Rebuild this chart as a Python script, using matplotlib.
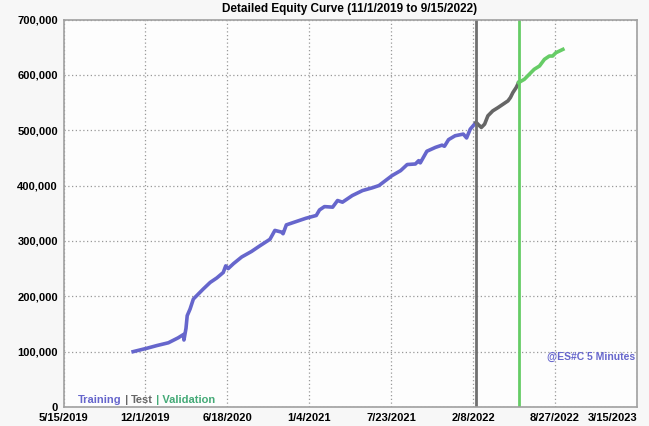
"""Detailed equity curve: training / test / validation segments.
"""
import numpy as np
import pandas as pd
import matplotlib
matplotlib.use('Agg')
import matplotlib.pyplot as plt

# equity readings (date, value) for each segment
train_dates = ['2019-11-01', '2019-12-04', '2019-12-29', '2020-01-26', '2020-02-19',
               '2020-03-03', '2020-03-04', '2020-03-09', '2020-03-12', '2020-03-19',
               '2020-03-27', '2020-04-08', '2020-04-20', '2020-05-07', '2020-05-23',
               '2020-06-08', '2020-06-14', '2020-06-20', '2020-07-03', '2020-07-23',
               '2020-08-16', '2020-09-05', '2020-09-30', '2020-10-12', '2020-10-28',
               '2020-11-01', '2020-11-09', '2020-12-03', '2020-12-27', '2021-01-21',
               '2021-01-29', '2021-02-10', '2021-03-02', '2021-03-14', '2021-03-26',
               '2021-04-19', '2021-05-14', '2021-06-07', '2021-06-23', '2021-07-09',
               '2021-07-25', '2021-08-15', '2021-08-31', '2021-09-20', '2021-09-28',
               '2021-10-02', '2021-10-18', '2021-11-08', '2021-11-24', '2021-11-30',
               '2021-12-10', '2021-12-26', '2022-01-15', '2022-01-23', '2022-02-01',
               '2022-02-15']
train_values = [100000, 106000, 111000, 116000, 125000,
                131000, 121000, 142000, 165000, 177000,
                195000, 204000, 213000, 225000, 233000,
                243000, 255000, 250000, 259000, 271000,
                281000, 291000, 303000, 319000, 316000,
                313000, 329000, 335000, 341000, 346000,
                356000, 362000, 361000, 373000, 370000,
                382000, 391000, 396000, 400000, 409000,
                418000, 427000, 438000, 439000, 445000,
                441000, 462000, 469000, 473000, 471000,
                483000, 490000, 493000, 486000, 502000,
                514000]

test_dates = ['2022-02-15', '2022-02-28', '2022-03-08', '2022-03-16', '2022-03-28',
              '2022-04-10', '2022-04-22', '2022-05-04', '2022-05-10', '2022-05-16',
              '2022-05-24', '2022-05-30']
test_values = [514000, 505000, 511000, 526000, 535000,
               541000, 547000, 553000, 559000, 568000,
               577000, 586000]

valid_dates = ['2022-05-30', '2022-06-13', '2022-06-25', '2022-07-07', '2022-07-20',
               '2022-08-01', '2022-08-13', '2022-08-21', '2022-08-29', '2022-09-15']
valid_values = [586000, 592000, 601000, 610000, 616000,
                628000, 634000, 634000, 640000, 646000]

test_start = '2022-02-15'
valid_start = '2022-05-30'

x_ticks = ['2019-05-15', '2019-12-01', '2020-06-18', '2021-01-04',
           '2021-07-23', '2022-02-08', '2022-08-27', '2023-03-15']
y_ticks = [0, 100000, 200000, 300000, 400000, 500000, 600000, 700000]

c_train = '#6666cc'
c_test = '#666666'
c_valid = '#66cc66'

plt.rcParams['font.family'] = ['Liberation Sans', 'DejaVu Sans']

fig = plt.figure(figsize=(6.49, 4.26), dpi=100, facecolor='#f7f7f7')
ax = fig.add_axes([63.5/649, 1 - 407/426, (637 - 63.5)/649, (407 - 19.5)/426])
ax.set_facecolor('#fdfdfd')

ax.plot(pd.to_datetime(train_dates), train_values, c=c_train, lw=2.6)
ax.plot(pd.to_datetime(test_dates), test_values, c=c_test, lw=2.6)
ax.plot(pd.to_datetime(valid_dates), valid_values, c=c_valid, lw=2.6)
ax.axvline(pd.Timestamp(test_start), c='#707070', lw=2)
ax.axvline(pd.Timestamp(valid_start), c=c_valid, lw=2)

xt = pd.to_datetime(x_ticks)
ax.set_xlim(xt[0], xt[-1])
ax.set_ylim(0, 700000)
ax.set_xticks(xt)
labs = ax.set_xticklabels([f'{d.month}/{d.day}/{d.year}' for d in xt], fontsize=8, fontweight='bold')
labs[-1].set_horizontalalignment('right')
labs[-1].set_x(labs[-1].get_position()[0])
ax.set_yticks(y_ticks)
ax.set_yticklabels(['{:,}'.format(v) for v in y_ticks], fontsize=8, fontweight='bold')
ax.tick_params(length=0, pad=4)
ax.grid(True, linestyle=(0, (1, 2)), color='#999999', lw=0.9)
for s in ax.spines.values():
    s.set_color('#a0a0a0')
    s.set_linewidth(1.2)

fig.text(350 / 649, 1 - 9/426, 'Detailed Equity Curve (11/1/2019 to 9/15/2022)',
         ha='center', va='center', fontsize=8.5, fontweight='bold')

ax.text(0.997, 0.128, '@ES#C 5 Minutes', transform=ax.transAxes, ha='right', va='center',
        fontsize=7.5, fontweight='bold', color=c_train)

# caption at bottom left, coloured per segment
parts = [('Training', c_train), (' | ', c_test), ('Test', c_test), (' | Validation', '#44aa77')]
fig.canvas.draw()
x0 = 78
for txt, col in parts:
    t = fig.text(x0 / 649, 1 - 400/426, txt, color=col, fontsize=8, fontweight='bold',
                 ha='left', va='center')
    bb = t.get_window_extent(renderer=fig.canvas.get_renderer())
    x0 += bb.width

fig.savefig('out.png', dpi=100, facecolor=fig.get_facecolor())
